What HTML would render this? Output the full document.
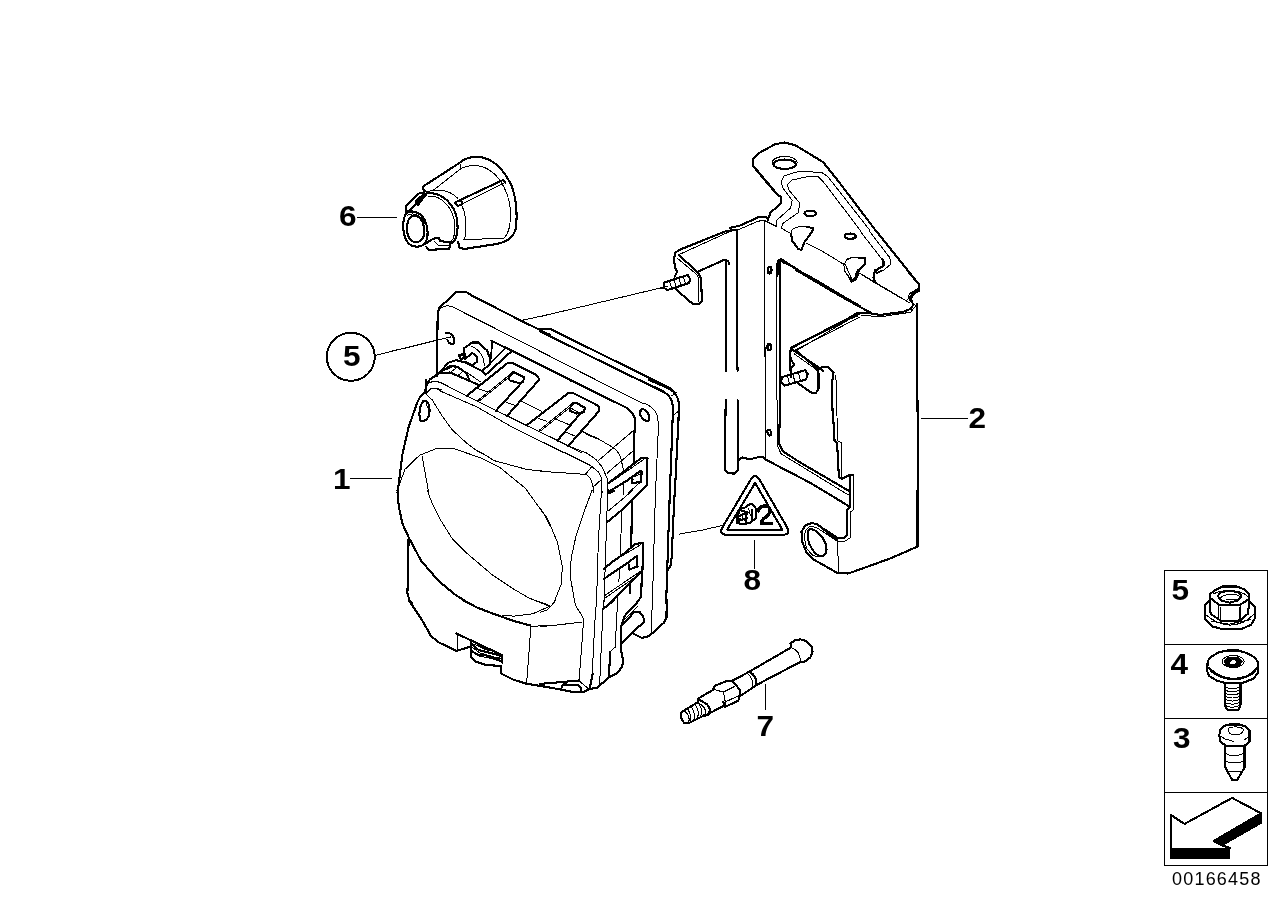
<!DOCTYPE html>
<html><head><meta charset="utf-8">
<style>
html,body{margin:0;padding:0;background:#fff;}
body{width:1288px;height:910px;overflow:hidden;position:relative;}
svg{position:absolute;left:0;top:0;filter:grayscale(100%);}
.lb{font-family:"Liberation Sans",sans-serif;font-weight:bold;font-size:29.5px;fill:#000;}
.t{fill:none;stroke:#000;stroke-width:1;stroke-linejoin:round;stroke-linecap:round;}
.m{fill:none;stroke:#000;stroke-width:1.6;stroke-linejoin:round;stroke-linecap:round;}
.k{fill:none;stroke:#000;stroke-width:2.1;stroke-linejoin:round;stroke-linecap:round;}
.k3{fill:none;stroke:#000;stroke-width:3.4;stroke-linejoin:round;stroke-linecap:round;}
.k4{fill:none;stroke:#000;stroke-width:4.2;stroke-linejoin:round;stroke-linecap:butt;}
.w{fill:#fff;stroke:#000;stroke-width:2.1;stroke-linejoin:round;}
</style></head>
<body>
<svg shape-rendering="crispEdges" width="1288" height="910" viewBox="0 0 1288 910">
<!-- DRAWING -->
<!-- 06_cap.txt -->
<path class="k" d="M 459.6 162.9 C 465.4 157.2 475.7 155.8 483.8 157.8 C 496.5 161.5 505.7 173.1 511.5 185.8 C 517.0 199.6 517.5 219.2 515.5 229.6 C 512.9 238.8 505.7 242.3 496.5 244.0 L 464.2 249.0 L 459.6 247.5 L 457.9 241.7"/>
<path class="k" d="M 459.6 162.9 L 423.8 186.0 L 422.7 188.6 L 426.4 191.8"/>
<path class="t" d="M 459.8 163.3 L 461.0 168.5 C 470.0 163.8 482.7 164.4 491.9 171.9 C 501.1 178.8 509.2 193.8 510.4 210.0 C 510.9 223.8 508.6 234.2 504.0 238.2 L 463.1 239.7"/>
<path class="t" d="M 461.0 168.5 L 433.1 190.4"/>
<path class="t" d="M 426.4 191.8 L 433.1 190.4 C 444.6 189.2 452.7 192.7 457.9 198.4"/>
<path class="k" d="M 455.0 202.5 L 503.4 179.8 L 505.2 182.5"/>
<path class="k" d="M 455.0 202.5 L 458.2 205.9 L 462.1 204.0 L 461.3 200.8"/>
<path class="t" d="M 462.1 204.0 L 505.2 182.5"/>
<path class="k" d="M 425.2 193.8 C 441.1 190.4 455.0 204.2 457.3 220.4 C 458.7 231.9 455.6 241.1 452.1 242.9"/>
<path class="t" d="M 428.5 196.1 C 441.1 195.0 452.7 207.7 454.8 222.7 C 455.6 233.1 453.3 239.4 451.5 241.1"/>
<path class="t" d="M 461.3 204.2 C 465.4 212.3 467.7 223.8 464.8 238.8"/>
<path class="k" d="M 406.5 212.9 C 401.9 219.2 401.9 234.2 407.7 242.3 C 412.3 248.1 421.5 248.1 425.6 242.3 C 429.6 235.4 427.3 219.2 420.4 214.6 C 415.8 211.1 410.0 210.6 406.5 212.9 Z"/>
<path class="k" d="M 410.0 217.5 C 406.0 222.7 406.0 235.4 410.6 240.0 C 415.2 244.0 422.1 242.3 423.8 235.4 C 425.6 228.4 422.7 219.2 418.1 216.7 C 415.2 215.2 412.3 215.5 410.0 217.5 Z"/>
<path class="t" d="M 407.5 215.2 C 412.3 212.3 421.5 214.6 425.2 223.8"/>
<path class="k" d="M 405.6 205.9 L 418.6 193.6 L 423.6 192.5 L 426.1 195.2 L 415.2 205.1 L 410.0 210.0 L 406.5 212.3 Z"/>
<path d="M415.7 200.4 L423.4 193.8 L425.5 196 L418.4 205.4 L415.7 204.6 Z" fill="#000" stroke="#000" stroke-width="1"/>
<path class="k" d="M 425.0 244.0 L 433.1 238.8 L 438.8 237.7 L 440.2 241.1 L 450.9 242.3 L 449.2 249.0 L 428.5 249.8 L 426.4 246.9"/>
<path class="t" d="M 434.2 241.1 L 438.8 245.7 L 449.2 245.7"/>
<!-- 10_unit_a.txt -->
<path class="k" d="M 437.0 376.3 L 437.6 317.3 L 438.8 308.3 L 456.8 291.6 L 466.0 291.8 L 472.2 295.8 L 521.7 321.0 L 550.0 334.9"/>
<path class="t" d="M 439.7 308.3 L 447.1 305.5 L 452.1 306.7 L 550.0 356.0"/>
<path class="t" d="M 521.7 320.4 L 550.0 314.2"/>
<path class="k" d="M 446.1 333.2 C 449.6 331.6 454.6 335.9 454.3 341.5 C 454.0 345.8 448.4 344.0 447.4 339.6"/>
<path class="t" d="M 390.0 351.4 L 407.4 347.7 L 450.9 336.9"/>
<path class="k" d="M 491.2 340.6 L 550.0 369.7"/>
<path class="t" d="M 491.2 340.9 L 490.9 359.5"/>
<path class="k" d="M 504.9 348.6 L 482.2 371.3 L 485.7 374.7 L 510.7 352.0"/>
<path class="k" d="M 426.0 393.0 L 426.0 384.6 L 430.0 379.4 L 439.9 372.5 L 443.4 368.8"/>
<path class="t" d="M 427.3 383.1 L 434.7 381.2 L 442.2 383.1"/>
<path class="t" d="M 430.0 389.3 L 434.7 388.1 L 442.2 389.9"/>
<!-- 11_unit_b.txt -->
<path class="k" d="M 540.0 328.7 L 551.2 329.4 L 670.4 388.3 L 675.4 393.0"/>
<path class="k" d="M 540.0 331.2 L 597.1 359.5 L 665.5 393.0"/>
<path class="t" d="M 540.0 351.4 L 622.0 393.0"/>
<path class="k" d="M 540.0 364.7 L 597.1 393.0"/>
<path class="t" d="M 540.0 316.6 L 668.0 286.2"/>
<!-- 12_unit_c.txt -->
<path class="k" d="M 426.0 380.0 L 425.4 392.4 L 420.4 396.1 L 417.3 402.4 L 408.6 427.2 L 402.4 454.5 L 397.5 493.0"/>
<path class="t" d="M 426.0 393.9 L 431.2 388.1 L 436.6 388.4 L 442.2 391.8"/>
<path class="t" d="M 426.6 387.5 C 427.3 382.5 432.2 381.0 437.8 381.5 L 442.2 383.5"/>
<path class="k" d="M 426.3 401.1 C 429.8 403.6 431.0 413.5 427.3 418.5 C 424.8 421.6 420.4 422.2 419.8 418.5 C 418.6 413.5 419.8 404.8 423.5 400.9 Z"/>
<path class="t" d="M 426.0 400.5 L 427.3 407.3"/>
<path class="t" d="M 426.0 393.9 L 432.2 399.9 L 442.2 416.0 L 452.1 429.7 L 467.0 443.4 L 477.0 450.8 L 484.4 454.5 L 494.3 460.7 L 526.6 469.4 L 550.0 471.9"/>
<path class="t" d="M 419.6 455.2 L 437.2 448.3 L 454.6 448.9 L 481.9 458.3 L 499.3 467.0 L 526.6 489.3"/>
<path class="t" d="M 419.6 455.2 L 404.9 469.4 L 397.7 489.3"/>
<path class="t" d="M 422.0 455.8 L 428.8 493.0"/>
<!-- 13_unit_d.txt -->
<path class="k" d="M 649.3 380.0 L 669.2 388.7 C 675.4 392.4 678.5 397.4 678.9 403.6 L 678.5 419.8 L 674.8 493.0"/>
<path class="k" d="M 639.4 380.0 L 663.0 391.2 C 669.2 394.9 672.9 399.9 672.9 407.3 L 672.3 429.7 L 669.8 493.0"/>
<path class="t" d="M 671.1 396.1 L 676.6 392.4 M 674.2 414.8 L 678.5 411.1"/>
<path class="t" d="M 595.9 380.0 L 641.9 403.0 C 651.8 404.8 658.0 412.3 658.0 421.0 L 658.0 435.9 L 655.5 493.0"/>
<path class="k" d="M 643.1 408.8 C 646.8 411.1 649.9 414.2 649.3 418.5 C 648.7 422.2 645.0 421.6 641.9 417.9 C 639.4 414.8 639.4 409.2 643.1 408.8 Z"/>
<path class="k" d="M 569.8 380.0 L 625.7 407.3 C 631.9 411.1 635.0 416.0 635.0 421.0 L 634.4 434.7 L 634.4 462.6"/>
<path class="t" d="M 582.9 431.6 L 587.2 434.7 L 599.6 439.6 L 613.3 447.7 L 617.0 450.8 L 620.7 457.0 L 623.2 469.4"/>
<path class="t" d="M 613.3 447.7 L 634.4 429.7 M 598.4 460.7 L 613.3 447.7 M 607.1 473.2 L 633.2 450.8"/>
<path class="t" d="M 540.0 432.2 L 556.1 439.6 L 571.1 447.1 L 587.2 453.3 L 595.9 459.5 L 602.1 467.0 L 607.1 478.1 L 608.3 493.0"/>
<path class="t" d="M 540.0 440.9 L 568.6 454.5 L 590.9 465.7 L 598.4 471.9 L 601.5 478.1 L 602.1 493.0"/>
<path class="t" d="M 540.0 471.3 L 558.6 472.5 L 585.3 474.4 C 589.7 475.7 593.4 481.9 593.4 493.0"/>
<path class="t" d="M 585.3 474.4 L 592.2 466.3 M 593.4 486.8 L 601.5 479.4"/>
<path class="k" d="M 607.7 483.7 L 641.9 457.6 L 647.5 458.0 L 646.6 485.6 L 640.0 492.4"/>
<path class="t" d="M 609.6 483.1 L 643.7 459.5"/>
<path class="k" d="M 607.7 492.4 L 627.0 480.6 L 640.0 471.3 L 641.6 471.3 L 641.2 481.9 L 631.9 483.1 L 632.5 479.4"/>
<path class="t" d="M 623.2 483.1 L 623.2 493.0 M 628.2 493.0 L 640.6 481.9 M 634.4 476.9 L 639.4 474.4"/>
<!-- 14_unit_e.txt -->
<path class="k" d="M 397.5 490.0 L 398.7 506.1 L 402.4 523.5 L 408.6 537.2 L 421.1 560.8 L 438.4 580.7 L 454.6 594.3 L 468.3 603.0"/>
<path class="k" d="M 408.6 537.2 L 408.0 575.7 L 407.4 593.1 L 409.9 601.8 L 412.4 603.0"/>
<path class="t" d="M 427.3 490.0 L 432.2 503.7 L 439.7 518.6 L 452.1 538.4 L 467.0 553.4 L 491.9 574.5 L 514.2 589.4 L 529.1 598.1 L 541.6 603.0"/>
<path class="t" d="M 526.6 490.0 L 545.3 516.1 L 550.0 526.0"/>
<!-- 15_unit_f.txt -->
<path class="t" d="M 540.0 508.0 L 547.5 518.6 L 557.4 542.2 L 562.4 567.0 L 561.1 584.4 L 553.7 603.0"/>
<path class="t" d="M 592.2 490.0 L 584.7 509.9 L 576.0 536.0 L 571.1 558.3 L 570.4 577.0 L 574.8 603.0"/>
<path class="t" d="M 601.5 490.0 L 598.4 539.7 L 596.5 603.0"/>
<path class="t" d="M 607.7 490.0 L 604.0 603.0"/>
<path class="k" d="M 607.7 493.7 L 614.5 490.6"/>
<path class="k" d="M 607.7 521.7 L 614.5 516.1 L 622.0 509.9 L 642.5 490.0"/>
<path class="t" d="M 608.9 510.5 L 633.2 490.0"/>
<path class="t" d="M 622.0 511.1 L 620.1 554.6 M 623.2 490.0 L 623.2 495.0"/>
<path class="k" d="M 631.9 499.9 L 631.3 547.1"/>
<path class="k" d="M 604.0 568.9 L 612.0 562.0 L 622.0 555.2 L 635.7 543.7 L 643.1 543.2 L 642.5 569.5"/>
<path class="t" d="M 605.8 565.8 L 640.6 544.7"/>
<path class="k" d="M 604.0 578.8 L 627.0 563.3 L 636.9 555.8 L 637.5 566.4 L 629.4 569.5 L 628.4 563.3"/>
<path class="t" d="M 604.6 595.6 L 639.4 572.0 M 605.8 597.5 L 640.6 573.5"/>
<path class="k" d="M 609.6 603.0 L 641.9 570.7"/>
<path class="k" d="M 641.9 570.7 L 641.2 596.8 L 636.9 602.4"/>
<path class="k" d="M 630.1 584.4 L 630.1 593.1"/>
<path class="t" d="M 619.5 569.5 L 618.9 581.9 M 617.6 596.8 L 617.6 603.0"/>
<path class="t" d="M 655.5 490.0 L 652.4 603.0"/>
<path class="k" d="M 669.8 490.0 L 669.2 514.8 L 668.0 543.4 L 667.3 569.5 L 666.1 603.0"/>
<path class="k" d="M 674.8 490.0 L 673.5 516.1 L 671.7 557.1 L 670.7 565.2 L 667.7 570.1"/>
<path class="t" d="M 679.1 534.1 L 700.0 530.4"/>
<!-- 16_unit_g.txt -->
<path class="k" d="M 408.6 600.0 L 421.1 618.6 L 431.0 636.0 L 438.4 642.2 L 456.5 650.9 L 470.5 646.6"/>
<path class="k" d="M 462.7 600.0 L 477.0 607.5 L 493.1 613.7 L 514.2 621.1 L 530.4 625.5"/>
<path class="t" d="M 530.4 626.3 L 550.0 625.5"/>
<path class="t" d="M 503.0 615.5 L 514.2 616.1 L 532.9 613.7 L 550.0 606.2 M 534.1 600.0 L 550.0 605.6"/>
<path class="k" d="M 456.5 633.5 L 502.4 655.3 L 502.4 662.7"/>
<path class="t" d="M 457.1 633.5 L 457.1 650.9"/>
<path class="k" d="M 470.7 642.2 L 470.7 657.1 L 475.7 661.5 L 486.9 665.2 L 500.6 665.8 L 500.6 673.3 L 513.0 679.5 L 525.4 683.5 L 550.0 687.6"/>
<path class="t" d="M 472.0 647.2 L 479.4 652.8 L 495.6 657.4 L 501.2 658.4 M 472.0 650.9 L 479.4 656.1 L 501.2 660.6 M 477.0 644.7 L 488.1 649.7 L 498.1 653.4"/>
<path class="t" d="M 531.0 625.5 L 526.6 683.5"/>
<!-- 17_unit_h.txt -->
<path class="t" d="M 540.0 602.5 L 548.1 605.6 M 540.0 612.4 L 547.5 609.9 L 556.1 600.0"/>
<path class="t" d="M 574.2 600.0 L 576.0 606.2 L 582.2 616.1 L 583.7 619.9 L 582.9 629.8 L 579.1 680.7"/>
<path class="t" d="M 540.0 626.7 L 558.6 624.8 L 582.2 622.1"/>
<path class="k" d="M 540.0 683.9 L 562.4 682.0 L 578.5 680.5"/>
<path class="k" d="M 540.0 685.7 L 559.9 689.4 L 572.3 691.9 L 582.9 692.2 L 588.4 689.4 L 597.1 687.6 L 609.6 677.0 L 617.0 673.3 L 622.0 667.1 L 623.2 660.9 L 621.4 652.2 L 621.4 626.1 L 624.5 616.1 L 639.4 600.0"/>
<path class="k" d="M 561.1 688.8 L 563.0 684.5 L 577.3 684.7 L 581.0 687.6 L 581.0 691.9"/>
<path class="t" d="M 579.8 681.4 L 588.4 688.8"/>
<path class="t" d="M 596.5 600.0 L 594.7 624.8 L 592.2 674.5 L 589.7 688.8 M 603.4 600.0 L 600.9 655.9 L 599.6 685.7 M 617.6 600.0 L 615.2 647.2 L 610.2 651.6"/>
<path class="k" d="M 610.2 651.6 L 608.9 677.0"/>
<path class="k" d="M 603.4 608.7 L 614.5 600.0"/>
<path class="k" d="M 589.7 688.8 L 592.8 673.3"/>
<path class="k" d="M 621.4 626.1 L 634.4 611.8 L 639.4 611.8 L 643.1 616.1 L 644.3 621.7 L 631.9 632.9 L 621.4 643.5"/>
<path class="k" d="M 631.9 632.9 L 641.9 637.9 L 649.3 636.0 L 664.2 622.4 L 666.5 617.4 L 666.7 600.0"/>
<path class="t" d="M 652.4 600.0 L 651.2 632.3 M 622.6 621.1 L 638.1 606.2"/>
<!-- 18_fins.txt -->
<path class="k" d="M 464.2 348.1 L 472.3 342.5 L 478.5 342.5 L 487.2 350.6 L 489.7 357.4 L 489.7 364.8 L 482.2 370.4"/>
<path class="t" d="M 471.7 346.2 C 479.8 349.9 484.7 357.4 484.1 366.1"/>
<path class="k" d="M 464.2 348.1 L 464.8 358.6"/>
<path class="k" d="M 458.6 355.2 L 462.6 354.3 L 464.2 357.4 L 461.4 359.9 Z"/>
<path class="k" d="M 465.5 358.6 L 472.3 353.0 L 476.6 356.1 L 477.3 361.4 L 472.5 365.5 L 466.1 362.4"/>
<path class="t" d="M 492.8 341.9 L 490.9 359.9"/>
<path class="k" d="M 440.0 372.9 L 447.5 363.0 L 456.1 360.1 L 464.8 362.4 L 482.2 371.1"/>
<path class="k" d="M 441.9 371.1 L 449.9 366.1 L 457.4 366.7 L 466.7 373.5 L 469.8 381.0"/>
<path class="k" d="M 440.0 373.5 L 449.9 372.5 L 469.8 381.0 L 478.5 385.0"/>
<path class="t" d="M 446.2 369.8 L 451.2 367.6 M 451.8 371.3 L 456.1 368.0 M 458.6 375.0 L 462.6 371.7"/>
<path class="t" d="M 464.8 371.1 L 481.0 382.2"/>
<path class="k" d="M 466.7 395.9 L 507.7 363.0 L 512.0 362.7 L 536.9 375.4 L 539.4 379.5 L 507.1 415.8"/>
<path class="k" d="M 512.3 372.5 L 514.8 372.5 L 524.5 377.5 L 522.6 382.2 L 519.5 383.2 L 509.6 380.4 L 508.9 377.3 Z"/>
<path class="k" d="M 522.6 381.6 L 495.9 410.8"/>
<path class="t" d="M 512.0 372.9 L 477.3 400.9 M 513.3 373.8 L 478.5 401.6"/>
<path class="t" d="M 477.3 388.4 L 487.2 391.6 M 505.8 402.1 L 514.5 405.2 M 508.9 379.8 L 519.5 384.1 M 522.0 401.5 L 541.9 411.4"/>
<path class="k" d="M 527.0 425.1 L 568.6 392.8 L 573.5 393.2 L 598.4 405.8 L 599.3 410.8 L 568.0 446.2"/>
<path class="k" d="M 572.9 402.7 L 576.0 402.7 L 584.7 407.7 L 584.1 412.3 L 576.6 413.5 L 570.4 411.1 L 570.4 407.1 Z"/>
<path class="k" d="M 581.6 412.0 L 557.4 440.6"/>
<path class="t" d="M 572.9 403.1 L 539.4 430.1 M 574.2 404.0 L 540.6 430.9"/>
<path class="t" d="M 538.1 418.3 L 546.8 421.4 M 556.8 419.5 L 569.2 424.7 M 566.7 432.5 L 574.2 435.7 M 571.7 408.6 L 577.9 412.3 M 582.9 431.9 L 600.0 439.4"/>
<path class="t" d="M 440.0 382.2 L 466.7 395.9 L 496.5 410.8 L 507.1 415.8 L 527.0 425.7 L 557.4 440.6 L 568.0 446.2 L 581.6 452.8"/>
<path class="t" d="M 440.0 390.9 L 477.3 407.1 L 509.6 425.7 L 556.8 449.3 L 564.2 453.0"/>
<!-- 19_conn.txt -->
<path class="k" d="M 472.0 644.0 L 478.6 650.0 L 501.6 655.8"/>
<path class="k" d="M 472.0 651.4 L 478.0 654.9 L 484.1 654.9 L 495.1 658.5 L 501.1 661.3"/>
<path class="t" d="M 474.2 644.2 L 488.5 650.8 M 494.0 658.0 L 497.3 660.7 L 499.5 656.9 M 488.5 652.5 L 494.0 653.6"/>
<!-- 20_br_a.txt -->
<path class="k" d="M 730.0 227.9 L 739.3 225.8 L 753.3 219.6 L 758.7 216.8 L 766.5 217.3 L 768.0 219.6 L 770.4 212.6 L 781.2 203.3 L 781.2 197.1 L 776.6 194.0 L 755.6 169.2 L 753.3 166.1 L 753.3 158.3 L 758.0 153.6 L 775.0 144.3 L 784.3 142.5 L 795.2 145.1 L 823.2 162.2 L 838.7 181.6 L 875.3 230.0"/>
<path class="t" d="M 754.8 166.8 L 779.7 196.3"/>
<ellipse class="t" cx="784.7" cy="162.6" rx="12.4" ry="6.2" transform="rotate(0.0 784.7 162.6)"/>
<ellipse class="k" cx="784.7" cy="164.2" rx="11.2" ry="4.7" transform="rotate(0.0 784.7 164.2)"/>
<path class="t" d="M 776.6 225.1 L 776.6 220.4 L 790.6 208.0 L 792.1 200.2 L 782.8 187.8 L 781.2 181.6 L 784.3 175.7 L 798.3 171.5 L 821.6 172.3 L 827.8 176.6 L 869.6 230.0"/>
<path class="t" d="M 781.2 228.2 L 782.8 223.5 L 798.3 212.6 L 799.9 203.3 L 789.0 190.1 L 787.5 184.7 L 792.1 180.0 L 807.6 176.6 L 818.5 176.9 L 823.2 181.6 L 860.0 230.0"/>
<ellipse class="k" cx="810.4" cy="213.4" rx="5.9" ry="2.8" transform="rotate(0.0 810.4 213.4)"/>
<path class="t" d="M 781.2 228.2 L 790.9 233.6 C 791.3 228.2 796.8 225.8 806.1 226.6"/>
<path class="k" d="M 806.1 226.6 L 813.1 228.2 L 812.3 231.3 L 804.5 242.1 L 801.4 249.9 L 798.3 249.1 L 792.1 240.6 L 791.3 234.4"/>
<path class="t" d="M 806.1 242.9 L 820.1 249.9 L 841.8 263.1 L 845.7 264.2"/>
<path class="k" d="M 737.0 229.7 L 737.0 276.0"/>
<path class="t" d="M 764.2 220.4 L 764.2 276.0"/>
<path class="t" d="M 730.0 230.0 L 737.8 230.0 L 758.0 221.2 L 764.2 220.4 L 776.6 226.6"/>
<ellipse class="k" cx="769.6" cy="270.1" rx="1.9" ry="3.4" transform="rotate(0.0 769.6 270.1)"/>
<path class="k" d="M 777.4 276.0 L 778.1 260.8 L 781.2 259.2 L 807.6 276.0"/>
<!-- 21_br_b.txt -->
<path class="k" d="M 737.6 230.0 L 726.8 230.8 L 678.6 250.2 L 674.8 253.3 L 674.0 261.1 L 675.5 268.8 L 677.1 271.9 L 674.8 276.6"/>
<path class="t" d="M 678.6 254.8 L 731.4 230.8"/>
<path class="k" d="M 678.6 254.8 L 697.3 271.9 L 701.1 278.1 L 701.9 301.4 L 698.8 303.8 L 692.6 303.8 L 675.5 289.0"/>
<path class="t" d="M 677.1 258.0 L 697.3 275.0 L 698.8 279.7 L 698.8 301.4"/>
<path class="k" d="M 698.0 271.6 L 724.4 259.8 L 728.3 261.1 L 729.1 264.2"/>
<path class="k" d="M 726.0 261.1 L 726.0 371.0"/>
<path class="k" d="M 664.3 282.5 L 687.6 275.0 L 690.4 279.4 L 688.9 283.1 L 667.0 290.2 L 663.9 287.5 Z"/>
<path class="t" d="M 669.3 281.2 L 671.6 288.2 M 674.0 279.7 L 676.3 286.7 M 678.6 278.1 L 681.0 285.1 M 683.3 276.6 L 685.6 283.6"/>
<path class="t" d="M 660.0 289.0 L 664.7 287.8"/>
<path class="k" d="M 736.9 230.0 L 736.9 349.6 L 737.6 371.0"/>
<path class="t" d="M 764.3 230.0 L 764.8 338.7 L 765.6 371.0"/>
<ellipse class="k" cx="769.9" cy="269.6" rx="1.6" ry="3.1" transform="rotate(0.0 769.9 269.6)"/>
<ellipse class="k" cx="769.2" cy="347.2" rx="1.6" ry="3.1" transform="rotate(0.0 769.2 347.2)"/>
<path class="k" d="M779.6 300 L779.6 260.5 L781.5 259.8 L784 263 L788 264 L800 271.5 L815.3 279.7 L846.3 298.3 L860 306.1"/>
<path class="t" d="M776.5 300 L776.5 263.5 L779 260.5"/>
<path class="k" d="M 790.4 371.0 L 789.7 354.2 L 792.0 348.0 L 802.9 341.8 L 860.0 313.1"/>
<path class="t" d="M 793.5 351.1 L 860.0 317.0"/>
<path class="k" d="M 793.5 350.3 L 815.3 365.1 L 823.0 371.0"/>
<path class="t" d="M 844.8 263.4 C 846.3 258.0 855.7 256.4 860.0 257.6"/>
<path class="k" d="M 860.0 268.8 L 856.0 276.6 L 852.5 280.9"/>
<path class="t" d="M 844.8 263.4 L 852.5 280.9"/>
<ellipse class="k" cx="850.2" cy="236.2" rx="5.4" ry="2.5" transform="rotate(0.0 850.2 236.2)"/>
<!-- 22_br_c.txt -->
<path class="t" d="M 764.8 270.0 L 764.8 338.3 L 765.6 411.0"/>
<path class="t" d="M 776.9 270.0 L 776.9 400.0"/>
<path class="k" d="M 780.0 270.0 L 780.0 400.0"/>
<ellipse class="k" cx="769.2" cy="346.9" rx="1.9" ry="3.1" transform="rotate(0.0 769.2 346.9)"/>
<path class="k" d="M 795.9 270.0 L 840.9 296.4 L 872.0 313.5 L 879.8 315.0 L 903.0 311.9 L 910.8 308.8 L 913.6 304.2 L 910.8 301.1 L 909.6 298.0 L 913.9 291.7 L 919.3 288.6 L 918.6 284.0 L 906.9 270.0"/>
<path class="t" d="M 861.1 315.0 L 879.8 316.9 L 910.8 312.2 L 915.8 305.7 L 912.7 302.6 L 911.1 296.7 L 918.6 290.5"/>
<path class="k" d="M 872.0 313.5 L 858.0 312.7 L 848.7 318.1 L 809.9 338.3 L 791.2 347.6 L 789.7 353.9 L 791.2 360.1 L 794.3 364.7 L 791.2 367.8 L 791.2 377.1"/>
<path class="t" d="M 858.0 315.8 L 848.7 319.7 L 796.2 350.7 L 794.3 353.9 L 816.1 369.4 L 817.6 372.5 L 817.6 391.1"/>
<path class="k" d="M 796.2 350.7 L 814.5 366.3 L 818.4 370.9 L 819.2 388.0 L 816.1 392.7 L 811.4 392.7 L 798.2 383.4"/>
<path class="k" d="M 781.9 377.1 L 805.2 370.2 L 807.7 374.0 L 806.1 379.5 L 784.3 385.7 L 781.1 381.8 Z"/>
<path class="t" d="M 787.4 375.6 L 789.7 384.1 M 792.8 374.0 L 795.1 382.6 M 798.2 372.5 L 800.6 381.0"/>
<path class="k" d="M817.6 369.4 L823 366.6 L829 367.5 L833.5 372.3 L831.7 385.5 L832.6 412.7 L834.3 432 L834.5 440.5 L837.1 442.7 L838.9 477.5 L842 478.8 L849.9 474.8 L853 474.8"/>
<path class="t" d="M835.2 375 L836.5 382.9 L837 416.3 L837.2 432 L837.2 440.5 L841.5 442.7 L841.1 477.5"/>
<path class="k" d="M849.9 475.7 L849.9 507.4"/>
<path class="t" d="M853.4 474.8 L853.4 510"/>
<path class="k" d="M 917.0 304.2 L 917.0 411.0"/>
<path class="t" d="M 844.0 270.0 L 851.8 280.9 L 856.5 279.3 L 859.6 273.1"/>
<path class="k" d="M 858.0 270.0 L 855.7 278.5 L 852.6 280.9"/>
<path class="t" d="M 859.6 273.1 L 909.3 302.6"/>
<path class="k" d="M 875.1 270.0 L 873.5 277.8 L 875.1 282.4"/>
<path class="t" d="M 875.1 273.1 L 882.9 270.0"/>
<!-- 23_br_d.txt -->
<path class="k" d="M 725.7 400.0 L 724.7 469.3 L 727.7 473.2 L 734.6 473.6 L 737.6 470.2 L 738.6 459.4 L 742.5 457.4 L 749.5 459.4 L 757.4 457.4 L 763.3 457.4 L 765.3 459.4"/>
<path class="k" d="M 737.6 400.0 L 737.6 459.4"/>
<path class="t" d="M 765.3 400.0 L 765.3 457.4"/>
<ellipse class="k" cx="769.3" cy="432.6" rx="1.8" ry="3.0" transform="rotate(-20.0 769.3 432.6)"/>
<path class="k" d="M 780.1 400.0 L 779.1 443.5 L 783.1 451.4 L 798.9 461.7 L 848.4 490.6"/>
<path class="t" d="M 777.2 400.0 L 777.2 445.5 L 781.1 453.8 L 848.4 495.0"/>
<path class="k" d="M 765.3 459.4 L 810.8 483.1 L 848.4 505.9"/>
<path class="k" d="M759.9 480.3 L786.7 526.6 Q791.5 534.8 782 534.8 L727.5 534.8 Q718 534.8 722.8 526.6 L750.3 480.3 Q755.1 472.1 759.9 480.3 Z"/>
<path class="k" d="M755.1 482.9 L782.3 529.6 L727.2 529.6 Z"/>
<path class="t" d="M 700.0 530.6 L 721.8 525.6"/>
<path class="k" d="M 917.6 546.4 L 917.6 400.0"/>
<!-- 24_icon.txt -->
<path class="k3" d="M 758.6 510.9 C 758.8 507.2 761.6 505.9 765.4 505.9 C 769.1 505.9 770.2 508.7 769.8 511.8 C 769.3 515.1 765.4 517.0 763.0 519.3 C 761.6 520.7 761.6 522.1 761.6 523.3 L 771.7 523.3"/>
<path class="k" d="M 736.9 523.0 L 736.9 515.1 L 739.2 512.3 L 739.2 509.5 L 744.8 507.6 L 750.4 503.7 L 753.2 504.8 L 756.0 508.6 L 756.0 517.9 L 750.4 522.6 L 743.9 524.4 Z"/>
<path class="k" d="M 752.3 509.5 L 752.3 520.7 M 739.2 516.0 L 747.6 512.3 M 739.2 520.7 L 746.7 517.9 M 741.1 510.4 L 746.7 512.3 L 745.8 523.5 M 736.9 517.9 L 741.1 519.8"/>
<path class="t" d="M 748.6 508.6 L 750.4 516.0 M 742.0 516.0 L 744.8 520.7"/>
<!-- 25_foot.txt -->
<path class="k" d="M 837.3 540.3 L 817.5 524.3 L 812.0 523.0 L 805.4 525.2 L 801.5 531.8 L 802.1 541.6 L 806.5 552.6 L 813.1 559.2 L 837.3 573.0 L 848.2 573.5 L 866.9 566.9 L 891.1 558.1 L 917.5 546.6 L 917.5 490.0"/>
<path class="t" d="M 837.3 541.2 L 816.4 527.4 L 809.8 526.3 L 805.4 530.7 L 804.3 537.3 L 806.5 548.2 L 812.0 554.8 L 816.4 556.5 L 823.0 557.0"/>
<path class="k" d="M 809.2 529.6 C 814.2 527.4 823.0 536.2 825.7 543.8 C 827.9 551.5 825.2 557.6 819.7 555.9 C 814.2 554.3 808.7 544.9 807.8 538.4 C 807.4 534.0 807.6 530.7 809.2 529.6 Z"/>
<path class="k" d="M 847.1 509.8 L 847.1 535.1 L 843.8 538.1 L 838.4 538.4 L 817.5 524.9"/>
<path class="k" d="M 850.4 490.0 L 850.4 506.5 L 847.1 509.8"/>
<path class="t" d="M 853.7 490.0 L 853.7 509.2 L 850.7 512.0 L 850.7 537.5 L 844.9 541.2 L 837.3 541.2"/>
<path class="t" d="M 837.5 541.6 L 838.6 573.0"/>
<!-- 26_br_tr.txt -->
<path class="t" d="M 869.6 230.0 L 869.6 231.5 L 889.2 256.9 L 890.8 260.8 L 890.4 264.6 L 883.8 270.0 L 876.2 273.8"/>
<path class="t" d="M 860.4 230.0 L 860.4 231.5 L 881.5 258.6"/>
<path class="k" d="M 881.5 258.8 L 883.5 260.8 L 883.5 266.2 L 877.7 268.8 L 874.2 273.1 L 873.8 280.8 L 875.8 283.1"/>
<path class="k" d="M 875.4 230.0 L 918.5 283.8 L 919.2 290.8 L 913.1 293.8 L 910.8 300.0"/>
<path class="t" d="M 907.7 300.0 L 909.2 293.8 L 917.7 288.5"/>
<path class="t" d="M 840.0 262.3 L 844.6 263.8 L 846.9 259.2 L 852.3 257.3 L 858.5 257.7"/>
<path class="k" d="M 858.5 257.8 L 865.4 258.5 L 865.4 263.1 L 859.2 270.0 L 856.2 273.8 L 855.4 280.0 L 851.5 281.5 L 850.8 280.8"/>
<path class="t" d="M 850.8 280.8 L 844.6 270.8 L 843.8 264.6 L 844.6 263.8"/>
<path class="t" d="M 859.2 273.1 L 875.4 283.1 L 903.8 299.6"/>
<ellipse class="k" cx="850.4" cy="236.3" rx="5.8" ry="2.8" transform="rotate(0.0 850.4 236.3)"/>
<!-- 30_bolt.txt -->
<path class="k" d="M 791.1 647.4 L 790.5 643.7 L 794.2 640.6 L 800.4 639.3 L 806.6 641.2 L 811.6 646.1 L 812.6 651.7 L 810.4 657.3 L 804.2 662.0 L 799.2 662.5"/>
<path class="t" d="M 791.1 647.4 C 798.0 649.9 800.4 654.8 800.4 661.7"/>
<path class="k" d="M 791.1 647.4 L 749.5 671.6 L 732.1 680.9"/>
<path class="k" d="M 799.2 662.5 L 757.0 684.7 L 739.6 696.5"/>
<path class="k" d="M 749.5 671.6 C 754.5 674.7 757.0 679.7 755.7 684.7"/>
<path class="t" d="M 747.6 673.5 C 751.4 677.2 753.5 680.9 752.2 685.7"/>
<path class="k" d="M 713.5 688.4 L 714.7 685.9 L 727.1 680.9 L 732.1 680.9 L 734.6 683.4 L 739.6 689.6 L 740.2 694.6 L 738.3 700.8 L 724.7 707.0 L 723.4 702.0"/>
<path class="t" d="M 714.7 689.6 L 723.4 692.1 L 734.6 686.5 M 723.4 692.1 L 725.3 702.0 L 726.5 706.4 M 725.3 702.0 L 738.3 695.8"/>
<path class="k" d="M 713.5 689.6 L 698.6 698.3 L 697.6 702.3"/>
<path class="k" d="M 723.7 705.8 L 707.3 714.5 L 703.5 715.1"/>
<path class="k" d="M 698.0 698.9 L 707.3 704.5 L 710.0 709.5 L 708.8 714.5 L 705.0 715.7"/>
<path class="t" d="M 699.2 703.3 C 703.5 705.8 706.0 709.5 705.4 713.2"/>
<path class="k" d="M 697.6 702.3 L 683.7 710.7 L 680.6 713.2 L 681.2 718.2 L 684.3 723.2 L 688.6 723.2 L 704.8 715.1"/>
<path class="t" d="M 683.7 710.7 C 688.6 713.2 690.5 719.4 688.0 723.2 M 688.0 709.5 C 690.5 713.2 691.7 718.8 689.9 722.2 M 691.7 707.3 C 694.2 711.4 695.5 716.3 693.6 720.1 M 695.5 705.2 C 698.0 708.9 699.2 713.9 697.3 717.6 M 698.8 703.5 C 701.3 707.3 702.5 712.0 700.7 715.7"/>
<!-- 40_legend.txt -->
<path class="k" d="M 1209.7 594.4 L 1214.7 590.3 L 1222.8 586.5 L 1237.0 586.5 L 1244.0 589.3 L 1248.6 593.4 L 1249.1 600.4 L 1248.1 613.6 L 1241.0 619.7 L 1238.0 620.7 L 1220.8 620.7 L 1211.7 614.6 L 1209.7 611.6 L 1210.2 600.4 Z"/>
<path class="t" d="M 1213.7 593.9 C 1220.8 589.3 1241.0 589.3 1247.6 596.4 M 1211.2 598.9 C 1214.7 603.5 1222.8 606.0 1229.9 606.0 C 1239.0 606.0 1245.0 603.5 1248.1 599.4"/>
<path class="k" d="M 1217.7 595.9 L 1220.8 592.4 L 1229.9 590.5 L 1239.0 592.4 L 1241.5 595.9 L 1238.0 600.4 L 1229.9 602.7 L 1220.8 600.4 Z"/>
<path class="t" d="M 1220.8 597.6 C 1223.8 593.6 1237.0 593.6 1240.0 596.6 M 1226.8 599.6 L 1237.0 599.6"/>
<path class="k" d="M 1210.7 598.4 L 1218.8 604.7 L 1240.0 604.7 L 1248.6 599.4"/>
<path class="t" d="M 1218.8 604.7 L 1218.8 619.7 M 1220.8 607.0 L 1220.8 620.7 M 1239.0 607.0 L 1239.0 619.9 M 1240.5 604.7 L 1240.8 618.8"/>
<path class="k" d="M 1209.2 601.0 L 1204.6 605.5 L 1204.6 618.6 L 1211.7 626.2 L 1222.8 629.3 L 1241.0 629.3 L 1251.1 624.7 L 1254.7 618.6 L 1254.7 606.5 L 1250.1 602.0"/>
<path class="t" d="M 1205.8 614.6 C 1212.7 620.7 1220.8 624.7 1229.9 625.2 C 1239.0 624.7 1247.1 621.7 1253.3 614.6 M 1211.7 621.2 L 1228.9 624.2 L 1250.1 619.7"/>
<path class="k" d="M 1207.6 661.1 L 1211.1 656.7 L 1219.0 652.3 L 1226.9 650.5 L 1238.4 650.5 L 1247.1 653.2 L 1255.1 657.6 L 1257.7 662.0 L 1257.7 673.4 L 1253.3 678.7 L 1244.5 682.2 L 1241.0 683.1 L 1225.2 683.1 L 1216.4 680.4 L 1209.3 676.0 L 1207.3 671.6 Z"/>
<path class="k" d="M 1208.9 668.1 C 1216.4 675.2 1225.2 678.7 1233.1 678.9 C 1242.7 678.9 1251.5 675.2 1256.4 668.1"/>
<path class="t" d="M 1210.0 670.8 C 1216.4 676.5 1225.2 679.4 1233.1 679.6 C 1242.7 679.6 1251.5 676.2 1256.1 670.8"/>
<ellipse class="t" cx="1233.1" cy="661.5" rx="11.0" ry="6.0" transform="rotate(0.0 1233.1 661.5)"/>
<path d="M1224.3 661.1 L1227.8 657.6 L1238.4 657.6 L1241.9 661.1 L1239.2 665.5 L1232.2 667.3 L1226.9 665.5 Z" fill="#000" stroke="#000" stroke-width="1.5"/>
<path d="M1229 663 L1233 659.5 L1237 662 L1233 664.5 Z" fill="#fff"/>
<path class="k" d="M 1224.7 683.1 L 1224.7 705.1 L 1226.9 709.5 L 1238.4 710.3 L 1240.5 705.1 L 1240.5 683.1"/>
<path class="t" d="M 1226.0 687.5 C 1229.6 689.2 1235.7 689.2 1239.7 687.0 M 1226.0 690.5 C 1229.6 692.3 1235.7 692.3 1239.7 690.1 M 1226.0 693.6 C 1229.6 695.4 1235.7 695.4 1239.7 693.2 M 1226.0 696.7 C 1229.6 698.5 1235.7 698.5 1239.7 696.3 M 1226.0 699.8 C 1229.6 701.5 1235.7 701.5 1239.7 699.3 M 1226.0 702.9 C 1229.6 704.6 1235.7 704.6 1239.7 702.4 M 1226.5 705.9 C 1229.6 707.7 1235.7 707.7 1239.2 705.5"/>
<path class="k" d="M 1220.2 729.8 L 1224.7 725.7 L 1228.9 724.5 L 1239.6 724.5 L 1245.3 726.5 L 1249.5 730.7 L 1249.5 741.4 L 1246.2 744.7 L 1242.0 746.3 L 1227.2 746.3 L 1223.1 743.9 L 1219.8 740.6 L 1219.4 734.8 Z"/>
<path class="t" d="M 1221.4 736.4 L 1224.7 738.9 L 1233.8 741.4 M 1244.5 739.7 L 1247.8 737.3"/>
<path class="t" d="M 1228.0 729.0 C 1228.9 726.5 1241.2 725.7 1243.7 729.8 C 1242.9 734.0 1238.7 734.8 1234.6 734.8 C 1230.5 734.8 1228.0 732.3 1228.0 729.0 Z"/>
<path class="k" d="M 1224.7 746.3 L 1224.7 766.1 L 1232.2 780.1 L 1237.1 780.1 L 1244.5 767.8 L 1244.5 746.3"/>
<path class="t" d="M 1226.4 753.7 C 1229.7 756.2 1238.7 756.2 1242.9 753.7 M 1226.4 761.2 C 1229.7 763.6 1238.7 763.6 1242.9 761.2 M 1229.7 771.1 L 1241.2 771.1"/>
<path d="M1258.5 813.5 L1262 813.3 L1262 823.4 L1223.3 845.6 L1213.7 841 Z" fill="#000"/>
<rect x="1170.1" y="847.8" width="59.8" height="10.8" fill="#000"/>
<path class="k" d="M1171 858 L1171 815.1 L1184.6 823.9 L1232.1 797.9 L1261.1 813.3 L1213.7 841 L1223.3 845.8 L1229.9 848"/>
<!-- /DRAWING -->
<!-- LABELS -->
<g id="labels">
<g transform="translate(339 225.6) scale(1.07 1)"><text class="lb" x="0" y="0">6</text></g>
<path class="t" d="M357 217.5H397"/>
<circle cx="350.8" cy="356.8" r="24" fill="none" stroke="#000" stroke-width="2"/>
<g transform="translate(343 366) scale(1.07 1)"><text class="lb" x="0" y="0">5</text></g>
<path class="t" d="M376.3 355.2L450.5 336.8"/>
<g transform="translate(333 489.2) scale(1.07 1)"><text class="lb" x="0" y="0">1</text></g>
<path class="t" d="M350.6 478.5H391.1"/>
<g transform="translate(968.5 428.3) scale(1.07 1)"><text class="lb" x="0" y="0">2</text></g>
<path class="t" d="M921.2 418.5H967.1"/>
<g transform="translate(743.5 590.3) scale(1.07 1)"><text class="lb" x="0" y="0">8</text></g>
<path class="t" d="M754.5 540V568.5"/>
<g transform="translate(756.5 736) scale(1.07 1)"><text class="lb" x="0" y="0">7</text></g>
<path class="t" d="M765.5 684V709.5"/>
</g>
<!-- LEGEND -->
<g id="legend">
<rect x="1164.6" y="570.5" width="102.8" height="295" fill="none" stroke="#000" stroke-width="1.3"/>
<path d="M1164.6 644.4H1267.4M1164.6 718.6H1267.4M1164.6 792.4H1267.4" stroke="#000" stroke-width="1.3"/>
<g transform="translate(1171.5 599.8) scale(1.07 1)"><text class="lb" x="0" y="0">5</text></g>
<g transform="translate(1170.5 673.6) scale(1.07 1)"><text class="lb" x="0" y="0">4</text></g>
<g transform="translate(1173 748.2) scale(1.07 1)"><text class="lb" x="0" y="0">3</text></g>
<text x="1172" y="884.8" style="font-family:'Liberation Sans',sans-serif;font-size:18px;letter-spacing:1.2px;fill:#000">00166458</text>
</g>
</svg>
</body></html>
